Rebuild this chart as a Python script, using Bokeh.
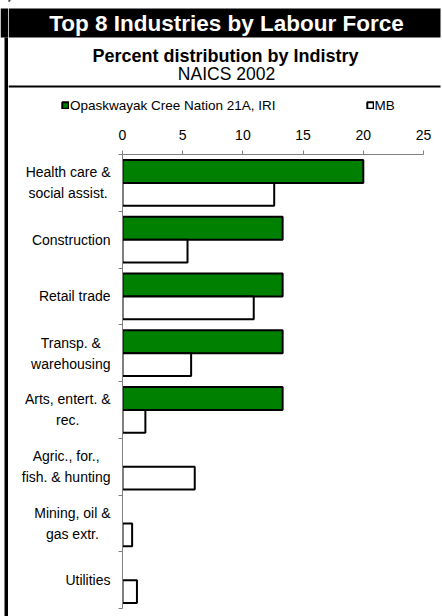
import numpy as np
from bokeh.plotting import figure
from bokeh.layouts import column, row
from bokeh.models import (Range1d, FixedTicker, Legend, LegendItem, ColumnDataSource,
                          CDSView, BooleanFilter)
from bokeh.core.properties import value
from bokeh.embed import file_html
from bokeh.resources import INLINE

# ---- data ----
categories = ["Health care &\nsocial assist.", "Construction", "Retail trade",
              "Transp. &\nwarehousing", "Arts, entert. &\nrec.",
              "Agric., for.,\nfish. & hunting", "Mining, oil &\ngas extr.", "Utilities"]
opaskwayak = [20.0, 13.3, 13.3, 13.3, 13.3, 0.0, 0.0, 0.0]
mb = [12.6, 5.4, 10.9, 5.7, 1.9, 6.0, 0.8, 1.2]
x_ticks = [0, 5, 10, 15, 20, 25]
series_names = ["Opaskwayak Cree Nation 21A, IRI", "MB"]
title_text = "Top 8 Industries by Labour Force"
subtitle_text = "Percent distribution by Indistry"
subtitle2_text = "NAICS 2002"

FONT = "Liberation Sans"
GREEN = "#008000"
W, H = 442, 616
SW = 8              # left strip width
H1 = 120            # header height
CH = H - H1         # chart row height
LW = 107            # category label column width
BAR_H = 0.405
N = len(categories)


def bare(width, height, xr, yr, **kw):
    f = figure(width=width, height=height, output_backend="svg", toolbar_location=None,
               x_range=xr, y_range=yr, x_axis_location=None, y_axis_location=None, **kw)
    f.outline_line_color = None
    f.grid.visible = False
    return f


# ---------------- left strip (frame border) ----------------
strip = bare(SW, H, Range1d(0, SW), Range1d(H, 0), min_border=0)
strip.quad(left=[0], right=[SW], top=[8], bottom=[37], fill_color="black", line_color=None)
strip.quad(left=[4], right=[7.5], top=[37], bottom=[H], fill_color="black", line_color=None)

# ---------------- header ----------------
HW = W - SW
hdr = bare(HW, H1, Range1d(0, HW), Range1d(H1, 0), min_border=0)
hdr.quad(left=[0], right=[432], top=[8], bottom=[37], fill_color="black", line_color=None)
hdr.quad(left=[0], right=[432], top=[85], bottom=[87], fill_color="black", line_color=None)
hdr.text(x=[218], y=[23], text=[title_text], text_align="center", text_baseline="middle",
         text_font=value(FONT), text_font_size="22.5px", text_font_style="bold",
         text_color="white")
hdr.text(x=[217], y=[55], text=[subtitle_text], text_align="center", text_baseline="middle",
         text_font=value(FONT), text_font_size="18px", text_font_style="bold",
         text_color="black")
hdr.text(x=[218], y=[73], text=[subtitle2_text], text_align="center", text_baseline="middle",
         text_font=value(FONT), text_font_size="17.5px", text_color="black")
# legend swatch renderers (one point each, kept outside the visible range)
lg1 = hdr.hbar(y=[-50], left=[0], right=[1], height=1, fill_color=GREEN, line_color="black",
               line_width=2)
lg2 = hdr.hbar(y=[-50], left=[0], right=[1], height=1, fill_color="white", line_color="black",
               line_width=2)
legend = Legend(items=[LegendItem(label=series_names[0], renderers=[lg1]),
                       LegendItem(label=series_names[1], renderers=[lg2])],
                orientation="horizontal", location=(53, 7.5),
                glyph_width=8, glyph_height=8, label_standoff=1, spacing=90,
                padding=0, margin=0, border_line_color=None, background_fill_alpha=0,
                label_text_font=FONT, label_text_font_size="13.5px", label_text_color="black",
                label_height=14)
hdr.add_layout(legend, "center")

# ---------------- chart ----------------
y_range = Range1d(N, 0)
idx = np.arange(N)

labels = bare(LW, CH, Range1d(0, LW), y_range, min_border_left=0, min_border_right=0,
              min_border_top=34, min_border_bottom=8)
labels.text(x=[LW - 5] * N, y=idx + 0.5, text=categories, anchor="center_right",
            text_align="center", text_baseline="middle", text_font=value(FONT),
            text_font_size="14px", text_color="black", text_line_height=1.3)

src = ColumnDataSource(dict(y1=idx + 0.5 - BAR_H / 2, y2=idx + 0.5 + BAR_H / 2,
                            a=opaskwayak, b=mb))

p = figure(width=W - SW - LW, height=CH, output_backend="svg", toolbar_location=None,
           x_range=Range1d(0, 25), y_range=y_range,
           x_axis_location="above", y_axis_location="left",
           min_border_left=7, min_border_right=19, min_border_top=34, min_border_bottom=8)
p.outline_line_color = None
p.grid.visible = False

xa = p.xaxis[0]
xa.ticker = FixedTicker(ticks=x_ticks)
xa.minor_tick_line_color = None
xa.major_tick_out = 4
xa.major_tick_in = 0
xa.axis_line_color = "#808080"
xa.major_tick_line_color = "#808080"
xa.major_label_text_font = FONT
xa.major_label_text_font_size = "14px"
xa.major_label_text_color = "black"
xa.major_label_standoff = 11

ya = p.yaxis[0]
ya.ticker = FixedTicker(ticks=list(range(N + 1)))
ya.major_tick_out = 4
ya.major_tick_in = 0
ya.minor_tick_line_color = None
ya.axis_line_color = "#808080"
ya.major_tick_line_color = "#808080"
ya.major_label_text_font_size = "0px"
ya.major_label_text_alpha = 0
ya.major_label_standoff = 0

view_a = CDSView(filter=BooleanFilter([v > 0 for v in opaskwayak]))
r1 = p.hbar(y="y1", left=0, right="a", height=BAR_H, source=src, view=view_a,
            fill_color=GREEN, line_color="black", line_width=2)
r2 = p.hbar(y="y2", left=0, right="b", height=BAR_H, source=src,
            fill_color="white", line_color="black", line_width=2)

layout = row(strip, column(hdr, row(labels, p)))
open("out.html", "w").write(file_html(layout, INLINE))
